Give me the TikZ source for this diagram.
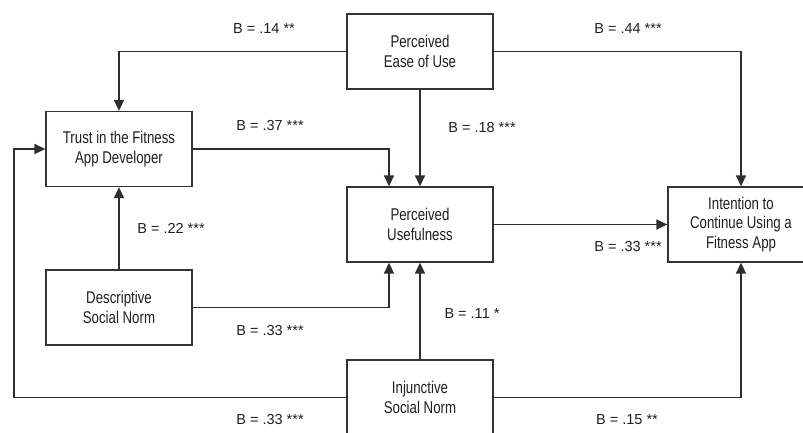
\documentclass[tikz,border=0pt]{standalone}
\usepackage{fontspec}
\setmainfont{Liberation Sans}
\newfontfamily\boxfont[FakeStretch=0.78]{Liberation Sans}
\usetikzlibrary{arrows.meta}

\tikzset{
	construct/.style={draw=black!80, line width=1.3pt, minimum width=146pt, minimum height=75pt,
		align=center, text=black!88, font=\boxfont\fontsize{17}{19.5}\selectfont},
	path/.style={draw=black!82, line width=1.5pt, -{Triangle[length=11pt,width=10pt]}},
	coef/.style={text=black!88, font=\fontsize{14.5}{17}\selectfont}
}

\begin{document}
\begin{tikzpicture}[x=1pt, y=-1pt]
		\useasboundingbox (0,0) rectangle (803,433);
		\clip (0,0) rectangle (803,433);

		% Constructs
		\node[construct] (peou) at (420,51.5) {Perceived\\Ease of Use};
		\node[construct] (trust) at (119,149) {Trust in the Fitness\\App Developer};
		\node[construct] (pu) at (420,224.5) {Perceived\\Usefulness};
		\node[construct] (intent) at (741,224.5) {Intention to\\Continue Using a\\Fitness App};
		\node[construct] (desc) at (119,307.5) {Descriptive\\Social Norm};
		\node[construct] (inj) at (420,397.5) {Injunctive\\Social Norm};

		% Corner of the long path on the left
		\coordinate (bend) at (14,397.5);

		% Paths
		\draw[path] (peou.west) -| (trust.north);
		\draw[path] (peou.east) -| (intent.north);
		\draw[path] (peou.south) -- (pu.north);
		\draw[path] (trust.east) -| ([xshift=-31pt]pu.north);
		\draw[path] (desc.north) -- (trust.south);
		\draw[path] (desc.east) -| ([xshift=-31pt]pu.south);
		\draw[path] (pu.east) -- (intent.west);
		\draw[path] (inj.north) -- (pu.south);
		\draw[path] (inj.west) -- (bend) |- (trust.west);
		\draw[path] (inj.east) -| (intent.south);

		% Coefficients
		\node[coef] (b1) at (264,29) {B = .14 **};
		\node[coef] (b2) at (628,29) {B = .44 ***};
		\node[coef] (b3) at (270,126) {B = .37 ***};
		\node[coef] (b4) at (482,128) {B = .18 ***};
		\node[coef] (b5) at (171,228) {B = .22 ***};
		\node[coef] (b6) at (628,247) {B = .33 ***};
		\node[coef] (b7) at (472,314) {B = .11 *};
		\node[coef] (b8) at (270,331) {B = .33 ***};
		\node[coef] (b9) at (270,420) {B = .33 ***};
		\node[coef] (b10) at (627,420) {B = .15 **};
	\end{tikzpicture}
\end{document}
